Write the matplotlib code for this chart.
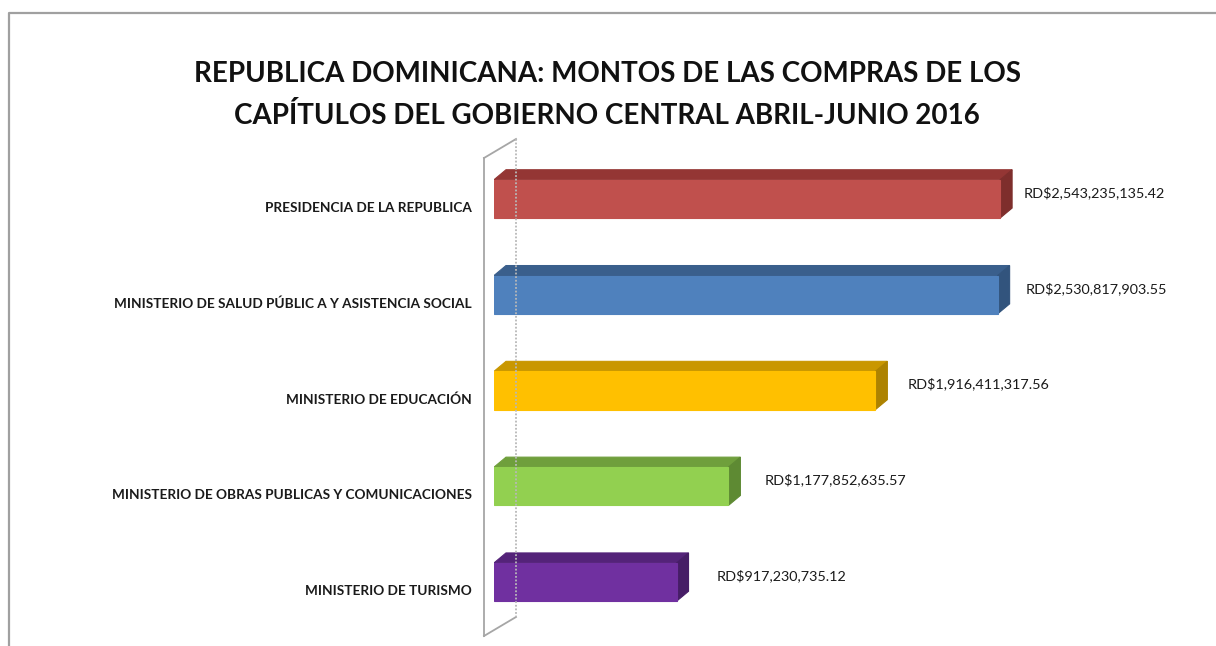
import matplotlib
matplotlib.use("Agg")
from matplotlib import pyplot as plt
from matplotlib.patches import Polygon
from matplotlib.lines import Line2D

# datos del grafico
categorias = ["PRESIDENCIA DE LA REPUBLICA",
              "MINISTERIO DE SALUD PÚBLIC A Y ASISTENCIA SOCIAL",
              "MINISTERIO DE EDUCACIÓN",
              "MINISTERIO DE OBRAS PUBLICAS Y COMUNICACIONES",
              "MINISTERIO DE TURISMO"]
montos = [2543235135.42, 2530817903.55, 1916411317.56, 1177852635.57, 917230735.12]
etiquetas = ["RD$2,543,235,135.42", "RD$2,530,817,903.55", "RD$1,916,411,317.56",
             "RD$1,177,852,635.57", "RD$917,230,735.12"]
col_frente = ["#C0504D", "#4F81BD", "#FFC000", "#92D050", "#7030A0"]
col_arriba = ["#943634", "#3A5F8C", "#C99700", "#6F9F3C", "#542379"]
col_lado = ["#7E2E2C", "#32547D", "#AD8200", "#5E8A33", "#461D66"]

W, H = 1216, 646
fig = plt.figure(figsize=(W / 100, H / 100), dpi=100)

# ejes: x=0 en px 494, 199 px por 1e9; y centros 199..582 px
x0_px, x1_px = 494, 1210
y_top_px, y_bot_px = 151, 630
ax = fig.add_axes([x0_px / W, (H - y_bot_px) / H, (x1_px - x0_px) / W, (y_bot_px - y_top_px) / H])
xmax = (x1_px - x0_px) / 199.0 * 1e9
ax.set_xlim(0, xmax)
ax.set_ylim(4.5, -0.5)
ax.axis("off")

px_x = xmax / (x1_px - x0_px)          # unidades de datos por pixel
px_y = 5.0 / (y_bot_px - y_top_px)
ddx, ddy = 12 * px_x, 10 * px_y
alto = 0.4

def fig_line(xs, ys, **kw):
    fig.add_artist(Line2D([x / W for x in xs], [1 - y / H for y in ys],
                          transform=fig.transFigure, **kw))

# pared 3D del eje
fig_line([484, 484], [158, 636], color="#A6A6A6", lw=1.3)
fig_line([484, 516], [158, 139], color="#A6A6A6", lw=1.3)
fig_line([484, 516], [636, 617], color="#A6A6A6", lw=1.3)
fig_line([516, 516], [139, 617], color="#B8B8B8", lw=1.3, ls=(0, (1, 1)))

for i, v in enumerate(montos):
    y0 = i - alto / 2
    y1 = i + alto / 2
    ax.barh(i, v, height=alto, color=col_frente[i], edgecolor=col_frente[i],
            lw=0.8, zorder=3)
    # cara superior
    ax.add_patch(Polygon([(0, y0), (v, y0), (v + ddx, y0 - ddy), (ddx, y0 - ddy)],
                         closed=True, facecolor=col_arriba[i], edgecolor=col_arriba[i],
                         lw=0.8, zorder=2))
    # cara lateral
    ax.add_patch(Polygon([(v, y0), (v + ddx, y0 - ddy), (v + ddx, y1 - ddy), (v, y1)],
                         closed=True, facecolor=col_lado[i], edgecolor=col_lado[i],
                         lw=0.8, zorder=2))
    # la separacion crece hacia abajo (perspectiva)
    gap = (12 + 4 * i) * 0.72
    ax.annotate(etiquetas[i], xy=(v + ddx, i - ddy / 2), xytext=(gap, 1),
                textcoords="offset points", ha="left", va="center",
                fontsize=10.4, family="Lato", color="#1a1a1a", annotation_clip=False)
    ax.annotate(categorias[i], xy=(0, i), xycoords=("axes fraction", "data"),
                xytext=(-16, -6.5), textcoords="offset points", ha="right",
                va="center", fontsize=9.8, family="Lato", weight="bold",
                color="#1a1a1a", annotation_clip=False)

fig.text(607 / W, 1 - 95 / H, "REPUBLICA DOMINICANA: MONTOS DE LAS COMPRAS DE LOS\n"
         "CAPÍTULOS DEL GOBIERNO CENTRAL ABRIL-JUNIO 2016",
         ha="center", va="center", fontsize=20, family="Lato", weight="bold",
         linespacing=1.7, color="#111111")

# borde del area del grafico
fig_line([9, 9, W + 5], [H + 5, 13, 13], color="#A0A0A0", lw=1.6)

fig.savefig("out.png", dpi=100)
